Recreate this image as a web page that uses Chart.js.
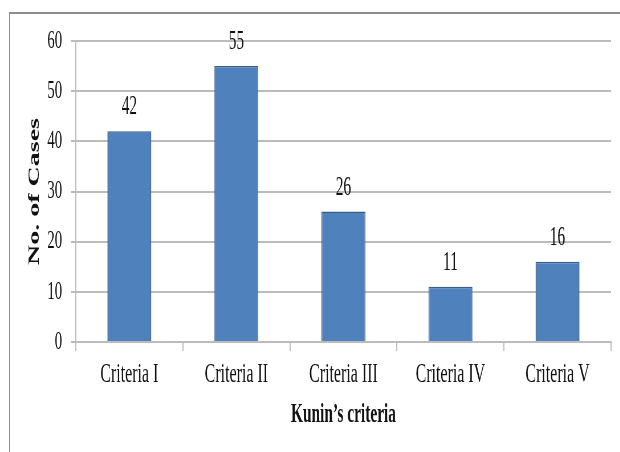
<!DOCTYPE html>
<html lang="en">

<head>
    <meta charset="utf-8">
    <title>Kunin's criteria - No. of Cases</title>
    <style>
        html, body { margin: 0; padding: 0; background: #fff; overflow: hidden; }
        /* thin grey frame round the chart */
        #frame {
            position: absolute; left: 9px; top: 12px; width: 640px; height: 460px;
            border-top: 2px solid #8c8c8c; border-left: 1px solid #8c8c8c;
        }
        /* chart is drawn wide and squeezed sideways, giving the narrow serif look */
        #wrap {
            position: absolute; left: 0; top: 0; width: 1088px; height: 452px;
            transform: scaleX(0.57); transform-origin: 0 0;
        }
    </style>
</head>

<body>
    <div id="frame"></div>
    <div id="wrap"><canvas id="casesChart"></canvas></div>

    <script src="https://cdn.jsdelivr.net/npm/chart.js"></script>
    <script>
        // data
        const categories = ['Criteria I', 'Criteria II', 'Criteria III', 'Criteria IV', 'Criteria V'];
        const caseCounts = [42, 55, 26, 11, 16];
        const yTickValues = [0, 10, 20, 30, 40, 50, 60];

        const gridGrey = '#bcbcbc';
        const serif = "'Liberation Serif', 'Times New Roman', serif";

        // value printed above every bar
        const barValues = {
            id: 'barValues',
            afterDatasetsDraw(chart) {
                const ctx = chart.ctx;
                ctx.save();
                ctx.font = '27px ' + serif;
                ctx.fillStyle = '#111';
                ctx.textAlign = 'center';
                ctx.textBaseline = 'alphabetic';
                chart.getDatasetMeta(0).data.forEach((bar, i) => {
                    ctx.fillText(String(caseCounts[i]), bar.x, bar.y - 17);
                });
                ctx.restore();
            }
        };

        new Chart(document.getElementById('casesChart'), {
            type: 'bar',
            data: {
                labels: categories,
                datasets: [{
                    data: caseCounts,
                    backgroundColor: '#4f81bd',
                    borderColor: '#385d8a',
                    borderWidth: 1.5,
                    categoryPercentage: 1,
                    barPercentage: 0.41
                }]
            },
            options: {
                responsive: true,
                maintainAspectRatio: false,
                animation: false,
                layout: { padding: { top: 41, right: 16, bottom: 0, left: 0 } },
                plugins: {
                    legend: { display: false },
                    tooltip: { enabled: false }
                },
                scales: {
                    x: {
                        grid: {
                            drawOnChartArea: false,
                            drawTicks: true,
                            tickLength: 9,
                            tickColor: gridGrey,
                            lineWidth: 2
                        },
                        border: { color: gridGrey, width: 2 },
                        ticks: {
                            padding: 7,
                            color: '#111',
                            font: { family: serif, size: 28 }
                        },
                        title: {
                            display: true,
                            text: 'Kunin\u2019s criteria',
                            color: '#111',
                            font: { family: serif, size: 27, weight: 'bold' },
                            padding: { top: 0, bottom: 21 }
                        },
                        afterFit(scale) { scale.height = 110; }
                    },
                    y: {
                        min: 0,
                        max: 60,
                        afterBuildTicks(scale) {
                            scale.ticks = yTickValues.map(v => ({ value: v }));
                        },
                        grid: {
                            color: gridGrey,
                            lineWidth: 2,
                            drawTicks: true,
                            tickLength: 9,
                            tickColor: gridGrey
                        },
                        border: { color: gridGrey, width: 2 },
                        ticks: {
                            padding: 15,
                            color: '#111',
                            font: { family: serif, size: 26 }
                        },
                        title: {
                            display: true,
                            text: 'No. of Cases',
                            color: '#111',
                            font: { family: serif, size: 28, weight: 'bold' },
                            padding: { top: 44, bottom: 0 }
                        },
                        afterFit(scale) { scale.width = 133; }
                    }
                }
            },
            plugins: [barValues]
        });
    </script>
</body>

</html>
